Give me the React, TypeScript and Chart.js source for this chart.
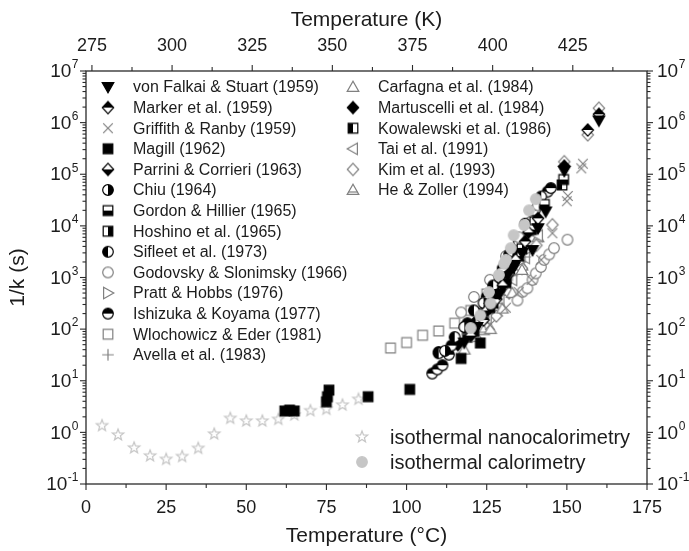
import { useEffect, useRef } from "react";
import { Chart, registerables } from "chart.js";

Chart.register(...registerables);

const FONT = '"Liberation Sans", Arial, Helvetica, sans-serif';
const INK = "#1c1c1c";
const AXIS = "#2a2a2a";
const BLACK = "#000000";
const GRAY = "#808080";
const LIGHT = "#c6c6c6";

// axis ticks
const CELSIUS_TICKS = [0, 25, 50, 75, 100, 125, 150, 175];
const KELVIN_TICKS = [275, 300, 325, 350, 375, 400, 425];
const DECADE_EXPONENTS = [-1, 0, 1, 2, 3, 4, 5, 6, 7];

const X_TITLE = "Temperature (\u00B0C)";
const TOP_TITLE = "Temperature (K)";
const Y_TITLE = "1/k (s)";

type P = [number, number];

// literature data: [temperature in °C, 1/k in s]
const vonFalkai: P[] = [[118, 55], [122, 110], [126, 260], [129, 480], [131.5, 1050], [133.5, 1600], [136, 3000], [139.3, 3400], [141, 9000], [143.4, 19000], [149.2, 116000], [160, 1100000]];
const marker: P[] = [[124, 150], [128, 380], [132, 1200], [137, 5000], [141, 14000], [149.2, 144000], [156.5, 720000], [160, 1450000]];
const griffith: P[] = [[126, 120], [131, 260], [135, 520], [139, 900], [142, 2200], [145.5, 7200], [150, 30000], [150.3, 38000], [154.5, 130000], [155, 160000]];
const magill: P[] = [[62, 2.6], [63.5, 2.7], [65, 2.6], [75, 3.9], [75.3, 4.9], [75.8, 6.6], [88, 4.9], [101, 6.8], [117, 27], [123, 54]];
const parrini: P[] = [[120, 75], [125, 230], [130, 700], [134, 2200], [138, 7500]];
const chiu: P[] = [[112, 38], [118, 110], [124, 320], [129, 1000], [133, 3200]];
const gordon: P[] = [[127, 320], [131, 950], [135, 2600], [139, 8500], [143, 26000], [149, 79000]];
const hoshino: P[] = [[121, 90], [126, 260], [131, 800], [136, 3600], [140, 12000]];
const sifleet: P[] = [[110, 34], [115, 70], [121, 230], [127, 700], [132, 2800], [137, 11000], [142, 37000]];
const godovsky: P[] = [[117, 210], [121, 420], [126, 900], [131, 2600], [135, 6000], [138.8, 12000], [141, 25000], [134.6, 360], [136.2, 530], [137.7, 620], [139.3, 900], [140.3, 1200], [141.9, 1600], [142.9, 2200], [144.5, 2800], [146, 3700], [150.2, 5400]];
const pratt: P[] = [[123, 160], [127, 330], [131, 800], [135, 2000]];
const ishizuka: P[] = [[108, 13.8], [109.6, 16.6], [111.2, 20], [113.2, 32], [110, 36], [114, 48], [119, 130], [125, 420], [130, 1500], [135, 5000], [140, 20000], [144, 46000], [145, 54000]];
const wlochowicz: P[] = [[95, 43], [100, 55], [105, 76], [110, 92], [115, 130], [120, 230], [125, 480], [130, 1300]];
const avella: P[] = [[119, 80], [124, 170], [128, 420], [133, 1100], [137, 2500]];
const carfagna: P[] = [[118, 40], [122, 70], [126.2, 100], [129.9, 250], [133, 500], [136, 1400]];
const martuscelli: P[] = [[116, 50], [122, 150], [127, 480], [132, 1600], [136, 4600], [140, 15000]];
const kowalewski: P[] = [[119, 70], [124, 200], [129, 650], [134, 2400], [139, 11000], [148.5, 62000]];
const tai: P[] = [[125, 160], [129, 370], [133, 900], [137, 2400], [141, 6500]];
const kim: P[] = [[128, 180], [132, 500], [136, 1500], [140.5, 4200], [145.5, 10500], [149.2, 175000], [156.5, 580000], [160, 1900000]];
const heZoller: P[] = [[124, 95], [128, 220], [132, 550], [136, 1700], [141, 6000]];

// this work
const nanocalorimetry: P[] = [[5, 1.35], [10, 0.89], [15, 0.5], [20, 0.35], [25, 0.3], [30, 0.34], [35, 0.49], [40, 0.93], [45, 1.87], [50, 1.66], [55, 1.66], [60, 1.79], [65, 2.17], [70, 2.63], [75, 2.8], [80, 3.39], [85, 4.37]];
const calorimetry: P[] = [[120, 105], [123, 185], [126.2, 315], [125.7, 520], [128.8, 1120], [130.4, 1850], [131, 2200], [132.5, 3700], [133.4, 6600], [136.7, 10400], [138.2, 20000], [140.3, 33000]];

type Ctx = CanvasRenderingContext2D;
type Path = (c: Ctx) => void;

const triDown: Path = (c) => { c.moveTo(-5.8, -4.4); c.lineTo(5.8, -4.4); c.lineTo(0, 5.8); c.closePath(); };
const triUp: Path = (c) => { c.moveTo(-5.8, 4.4); c.lineTo(5.8, 4.4); c.lineTo(0, -5.8); c.closePath(); };
const triRight: Path = (c) => { c.moveTo(-4.4, -5.8); c.lineTo(5.8, 0); c.lineTo(-4.4, 5.8); c.closePath(); };
const triLeft: Path = (c) => { c.moveTo(4.4, -5.8); c.lineTo(-5.8, 0); c.lineTo(4.4, 5.8); c.closePath(); };
const diamond: Path = (c) => { c.moveTo(0, -6.2); c.lineTo(5.7, 0); c.lineTo(0, 6.2); c.lineTo(-5.7, 0); c.closePath(); };
const square: Path = (c) => { c.rect(-4.8, -4.8, 9.6, 9.6); };
const circle: Path = (c) => { c.arc(0, 0, 5.3, 0, Math.PI * 2); };
const star: Path = (c) => {
  for (let i = 0; i < 10; i++) {
    const r = i % 2 === 0 ? 6 : 2.5;
    const a = -Math.PI / 2 + (i * Math.PI) / 5;
    const px = r * Math.cos(a), py = r * Math.sin(a);
    if (i === 0) c.moveTo(px, py); else c.lineTo(px, py);
  }
  c.closePath();
};

function sprite(paint: (c: Ctx) => void): HTMLCanvasElement {
  const cv = document.createElement("canvas");
  cv.width = 16;
  cv.height = 16;
  const c = cv.getContext("2d") as Ctx;
  c.translate(8, 8);
  c.lineWidth = 1.2;
  paint(c);
  return cv;
}

const solid = (path: Path, color: string) => sprite((c) => {
  c.beginPath(); path(c); c.fillStyle = color; c.fill(); c.strokeStyle = color; c.stroke();
});
const open = (path: Path, color: string) => sprite((c) => {
  c.beginPath(); path(c); c.fillStyle = "#ffffff"; c.fill(); c.strokeStyle = color; c.stroke();
});
const half = (path: Path, clip: [number, number, number, number]) => sprite((c) => {
  c.beginPath(); path(c); c.fillStyle = "#ffffff"; c.fill();
  c.save(); c.beginPath(); c.rect(clip[0], clip[1], clip[2], clip[3]); c.clip();
  c.beginPath(); path(c); c.fillStyle = BLACK; c.fill(); c.restore();
  c.beginPath(); path(c); c.strokeStyle = BLACK; c.stroke();
});
const TOP: [number, number, number, number] = [-8, -8, 16, 8];
const BOTTOM: [number, number, number, number] = [-8, 0, 16, 8];
const LEFT: [number, number, number, number] = [-8, -8, 8, 16];
const RIGHT: [number, number, number, number] = [0, -8, 8, 16];

const cross = () => sprite((c) => {
  c.strokeStyle = GRAY; c.beginPath();
  c.moveTo(-4.8, -4.8); c.lineTo(4.8, 4.8); c.moveTo(4.8, -4.8); c.lineTo(-4.8, 4.8); c.stroke();
});
const plus = () => sprite((c) => {
  c.strokeStyle = GRAY; c.beginPath();
  c.moveTo(-5.8, 0); c.lineTo(5.8, 0); c.moveTo(0, -5.8); c.lineTo(0, 5.8); c.stroke();
});
const triBar = () => sprite((c) => {
  c.beginPath(); triUp(c); c.fillStyle = "#ffffff"; c.fill(); c.strokeStyle = GRAY; c.stroke();
  c.beginPath(); c.moveTo(-4.5, 2); c.lineTo(4.5, 2); c.stroke();
});

type Series = { label: string; data: P[]; make: () => HTMLCanvasElement };

const literature: Series[] = [
  { label: "von Falkai & Stuart (1959)", data: vonFalkai, make: () => solid(triDown, BLACK) },
  { label: "Marker et al. (1959)", data: marker, make: () => half(diamond, TOP) },
  { label: "Griffith & Ranby (1959)", data: griffith, make: cross },
  { label: "Magill (1962)", data: magill, make: () => solid(square, BLACK) },
  { label: "Parrini & Corrieri (1963)", data: parrini, make: () => half(diamond, BOTTOM) },
  { label: "Chiu (1964)", data: chiu, make: () => half(circle, RIGHT) },
  { label: "Gordon & Hillier (1965)", data: gordon, make: () => half(square, BOTTOM) },
  { label: "Hoshino et al. (1965)", data: hoshino, make: () => half(square, RIGHT) },
  { label: "Sifleet et al. (1973)", data: sifleet, make: () => half(circle, LEFT) },
  { label: "Godovsky & Slonimsky (1966)", data: godovsky, make: () => open(circle, GRAY) },
  { label: "Pratt & Hobbs (1976)", data: pratt, make: () => open(triRight, GRAY) },
  { label: "Ishizuka & Koyama (1977)", data: ishizuka, make: () => half(circle, TOP) },
  { label: "Wlochowicz & Eder (1981)", data: wlochowicz, make: () => open(square, GRAY) },
  { label: "Avella et al. (1983)", data: avella, make: plus },
  { label: "Carfagna et al. (1984)", data: carfagna, make: () => open(triUp, GRAY) },
  { label: "Martuscelli et al. (1984)", data: martuscelli, make: () => solid(diamond, BLACK) },
  { label: "Kowalewski et al. (1986)", data: kowalewski, make: () => half(square, LEFT) },
  { label: "Tai et al. (1991)", data: tai, make: () => open(triLeft, GRAY) },
  { label: "Kim et al. (1993)", data: kim, make: () => open(diamond, GRAY) },
  { label: "He & Zoller (1994)", data: heZoller, make: triBar },
];

const present: Series[] = [
  { label: "isothermal nanocalorimetry", data: nanocalorimetry, make: () => open(star, LIGHT) },
  { label: "isothermal calorimetry", data: calorimetry, make: () => solid(circle, LIGHT) },
];

function line(c: Ctx, x1: number, y1: number, x2: number, y2: number) {
  c.beginPath(); c.moveTo(x1, y1); c.lineTo(x2, y2); c.stroke();
}

function powerLabel(c: Ctx, exp: number, x: number, y: number, align: "left" | "right") {
  const base = "10";
  const sup = String(exp);
  c.font = `19px ${FONT}`;
  const wb = c.measureText(base).width;
  c.font = `12px ${FONT}`;
  const ws = c.measureText(sup).width;
  const x0 = align === "right" ? x - wb - ws : x;
  c.textAlign = "left";
  c.textBaseline = "middle";
  c.font = `19px ${FONT}`;
  c.fillText(base, x0, y + 1);
  c.font = `12px ${FONT}`;
  c.fillText(sup, x0 + wb + 0.5, y - 6);
}

export default function App() {
  const ref = useRef<HTMLCanvasElement | null>(null);

  useEffect(() => {
    const canvas = ref.current;
    if (!canvas) return;
    const sprites = literature.map((s) => s.make());
    const ownSprites = present.map((s) => s.make());

    const frame = {
      id: "frameAxes",
      beforeDatasetsDraw(chart: any) {
        const c: Ctx = chart.ctx;
        const a = chart.chartArea;
        const x = chart.scales.x, xK = chart.scales.xK, y = chart.scales.y;
        c.save();
        c.strokeStyle = AXIS;
        c.lineWidth = 1.3;
        c.strokeRect(a.left, a.top, a.right - a.left, a.bottom - a.top);
        c.lineWidth = 1.1;
        for (const v of CELSIUS_TICKS) {
          const px = x.getPixelForValue(v);
          line(c, px, a.bottom, px, a.bottom + 6);
          if (v + 12.5 < 175) {
            const pm = x.getPixelForValue(v + 12.5);
            line(c, pm, a.bottom, pm, a.bottom + 4);
          }
        }
        for (const v of KELVIN_TICKS) {
          const px = xK.getPixelForValue(v);
          line(c, px, a.top, px, a.top - 6);
          if (v + 12.5 < xK.max) {
            const pm = xK.getPixelForValue(v + 12.5);
            line(c, pm, a.top, pm, a.top - 4);
          }
        }
        for (const e of DECADE_EXPONENTS) {
          const py = y.getPixelForValue(Math.pow(10, e));
          line(c, a.left - 6, py, a.left, py);
          line(c, a.right, py, a.right + 6, py);
          if (e < 7) {
            for (let k = 2; k <= 9; k++) {
              const pm = y.getPixelForValue(k * Math.pow(10, e));
              line(c, a.left - 3.5, pm, a.left, pm);
              line(c, a.right, pm, a.right + 3.5, pm);
            }
          }
        }
        c.restore();
      },
      afterDatasetsDraw(chart: any) {
        const c: Ctx = chart.ctx;
        const a = chart.chartArea;
        const x = chart.scales.x, xK = chart.scales.xK, y = chart.scales.y;
        c.save();
        c.fillStyle = INK;
        c.font = `18px ${FONT}`;
        c.textAlign = "center";
        c.textBaseline = "middle";
        for (const v of CELSIUS_TICKS) c.fillText(String(v), x.getPixelForValue(v), a.bottom + 24);
        for (const v of KELVIN_TICKS) c.fillText(String(v), xK.getPixelForValue(v), a.top - 25);
        for (const e of DECADE_EXPONENTS) {
          const py = y.getPixelForValue(Math.pow(10, e));
          powerLabel(c, e, a.left - 8, py, "right");
          powerLabel(c, e, a.right + 10, py, "left");
        }
        c.font = `21px ${FONT}`;
        c.textAlign = "center";
        c.textBaseline = "middle";
        const cx = (a.left + a.right) / 2;
        c.fillText(X_TITLE, cx, a.bottom + 52);
        c.fillText(TOP_TITLE, cx, a.top - 51);
        c.save();
        c.translate(18, (a.top + a.bottom) / 2);
        c.rotate(-Math.PI / 2);
        c.fillText(Y_TITLE, 0, 0);
        c.restore();

        // literature legend, two columns
        c.font = `16px ${FONT}`;
        c.textAlign = "left";
        literature.forEach((s, i) => {
          const col = i < 14 ? 0 : 1;
          const row = col === 0 ? i : i - 14;
          const mx = col === 0 ? a.left + 22 : a.left + 267;
          const my = a.top + 16 + row * 20.6;
          c.drawImage(sprites[i], mx - 8, my - 8);
          c.fillText(s.label, mx + 25, my + 1);
        });
        // own measurements legend
        c.font = `20px ${FONT}`;
        present.forEach((s, i) => {
          const mx = a.left + 276;
          const my = a.bottom - 47 + i * 25;
          c.drawImage(ownSprites[i], mx - 8, my - 8);
          c.fillText(s.label, mx + 28, my + 1);
        });
        c.restore();
      },
    };

    const toPts = (d: P[]) => d.map(([t, v]) => ({ x: t, y: v }));
    const datasets: any[] = [];
    literature.forEach((s, i) => {
      datasets.push({ label: s.label, data: toPts(s.data), pointStyle: sprites[i], pointRadius: 5, showLine: false });
    });
    present.forEach((s, i) => {
      datasets.push({ label: s.label, data: toPts(s.data), pointStyle: ownSprites[i], pointRadius: 5, showLine: false });
    });
    // calorimetry discs are drawn over the literature symbols
    datasets[datasets.length - 1].order = -1;

    const chart = new Chart(canvas, {
      type: "scatter",
      data: { datasets },
      options: {
        responsive: false,
        animation: false,
        events: [],
        layout: { padding: { left: 86, top: 71, right: 42, bottom: 67 } },
        plugins: { legend: { display: false }, tooltip: { enabled: false } },
        scales: {
          x: { type: "linear", min: 0, max: 175, display: false },
          xK: { type: "linear", position: "top", min: 273.15, max: 448.15, display: false },
          y: { type: "logarithmic", min: 0.1, max: 1e7, display: false },
        },
      },
      plugins: [frame],
    });
    return () => chart.destroy();
  }, []);

  return (
    <div style={{ position: "fixed", left: 0, top: 0, width: 689, height: 551, background: "#ffffff" }}>
      <canvas ref={ref} width={689} height={551} style={{ display: "block" }} />
    </div>
  );
}
